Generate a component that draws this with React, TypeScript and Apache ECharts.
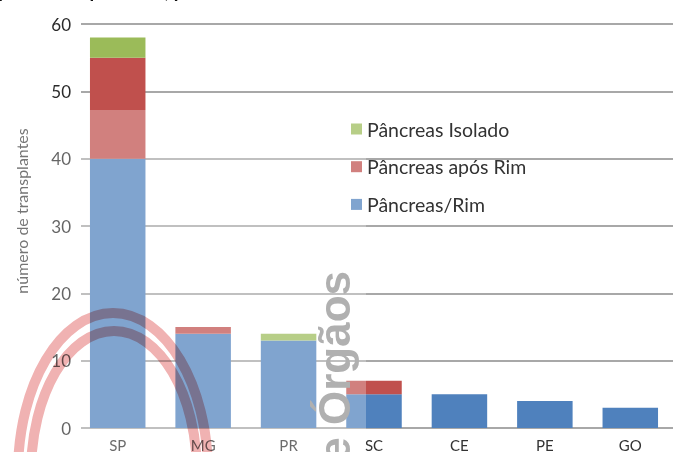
import React, { useEffect, useRef } from "react";
import * as echarts from "echarts";

const categories = ["SP", "MG", "PR", "SC", "CE", "PE", "GO"];
const pancreasRim = [40, 14, 13, 5, 5, 4, 3];
const pancreasAposRim = [15, 1, 0, 2, 0, 0, 0];
const pancreasIsolado = [3, 0, 1, 0, 0, 0, 0];
const seriesNames = ["Pâncreas/Rim", "Pâncreas após Rim", "Pâncreas Isolado"];
const seriesColors = ["#4F81BD", "#C0504D", "#9BBB59"];
const yMin = 0;
const yMax = 60;
const yInterval = 10;
const yAxisTitle = "número de transplantes";
const watermark = "de Órgãos";
const titleText = "Transplantes de pâncreas, por estado";

export default function App() {
  const ref = useRef<HTMLDivElement>(null);
  const arcRef = useRef<HTMLDivElement>(null);

  useEffect(() => {
    if (!ref.current || !arcRef.current) return;
    const chart = echarts.init(ref.current, null, { renderer: "svg" });
    const gridColor = "#a8a8a8";
    const values = [pancreasRim, pancreasAposRim, pancreasIsolado];
    chart.setOption({
      animation: false,
      backgroundColor: "#ffffff",
      grid: { left: 75, top: 24, width: 605.5, height: 405, containLabel: false },
      xAxis: {
        type: "category",
        data: categories,
        axisLine: { show: true, lineStyle: { color: gridColor, width: 2 } },
        axisTick: { show: false },
        axisLabel: { color: "#333", fontSize: 15, fontFamily: "Lato", margin: 9 },
      },
      yAxis: {
        type: "value",
        min: yMin,
        max: yMax,
        interval: yInterval,
        axisLine: { show: false },
        axisTick: { show: false },
        axisLabel: { color: "#2a2a2a", fontSize: 17, fontFamily: "Lato", margin: 4 },
        splitLine: { lineStyle: { color: gridColor, width: 2 } },
      },
      legend: {
        orient: "vertical",
        left: 351,
        top: 118,
        padding: 0,
        itemWidth: 11,
        itemHeight: 11,
        itemGap: 15.7,
        icon: "rect",
        data: [seriesNames[2], seriesNames[1], seriesNames[0]],
        textStyle: { color: "#333", fontSize: 19.5, fontFamily: "Lato", lineHeight: 22 },
      },
      series: seriesNames.map((name, i) => ({
        name,
        type: "bar",
        stack: "total",
        barWidth: 55.5,
        data: values[i],
        itemStyle: { color: seriesColors[i] },
      })),
      graphic: [
        {
          type: "text",
          x: -47,
          y: 0,
          z: 40,
          style: {
            text: titleText,
            font: "bold 19px Lato",
            fill: "#111",
            align: "left",
            verticalAlign: "bottom",
          },
        },
        {
          type: "rect",
          z: 50,
          shape: { x: 74, y: 18, width: 7, height: 416 },
          style: { fill: "#ffffff" },
        },
        {
          type: "text",
          x: 21,
          y: 211,
          rotation: Math.PI / 2,
          z: 55,
          style: {
            text: yAxisTitle,
            font: "16px Lato",
            fill: "#404040",
            align: "center",
            verticalAlign: "middle",
          },
        },
        {
          type: "rect",
          z: 60,
          shape: { x: 0, y: 110, width: 366, height: 342 },
          style: { fill: "rgba(255,255,255,0.28)" },
        },
        {
          type: "text",
          x: 356,
          y: 271,
          rotation: Math.PI / 2,
          z: 70,
          style: {
            text: watermark,
            font: "bold 44px 'Liberation Sans'",
            fill: "#b0b0b0",
            align: "right",
            verticalAlign: "bottom",
          },
        },
      ],
    });

    const arcs = echarts.init(arcRef.current, null, { renderer: "svg" });
    arcs.setOption({
      animation: false,
      graphic: [
        {
          type: "ellipse",
          shape: { cx: 113, cy: 473, rx: 95, ry: 160 },
          style: { fill: "none", stroke: "#F0B2B2", lineWidth: 10 },
        },
        {
          type: "ellipse",
          shape: { cx: 114, cy: 473, rx: 83, ry: 142 },
          style: { fill: "none", stroke: "#F0B2B2", lineWidth: 10 },
        },
      ],
    });

    return () => {
      chart.dispose();
      arcs.dispose();
    };
  }, []);

  return (
    <>
      <div
        ref={ref}
        style={{ position: "fixed", left: 0, top: 0, width: 673, height: 452, background: "#fff" }}
      />
      <div
        ref={arcRef}
        style={{
          position: "fixed",
          left: 0,
          top: 0,
          width: 673,
          height: 452,
          pointerEvents: "none",
          mixBlendMode: "multiply",
        }}
      />
    </>
  );
}
